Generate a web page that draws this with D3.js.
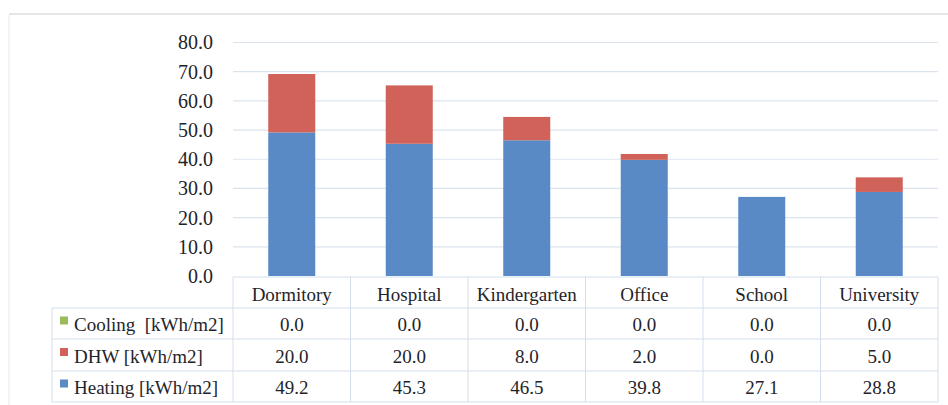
<!DOCTYPE html>
<html>
<head>
<meta charset="utf-8">
<script src="https://cdn.jsdelivr.net/npm/d3@7"></script>
<style>
  html, body { margin: 0; padding: 0; background: #fff; }
  svg { display: block; }
</style>
</head>
<body>
<svg id="chart" width="948" height="405"></svg>
<script>
// Building types and their annual energy demand per floor area
const categories = ["Dormitory", "Hospital", "Kindergarten", "Office", "School", "University"];
const heating = [49.2, 45.3, 46.5, 39.8, 27.1, 28.8];
const dhw = [20.0, 20.0, 8.0, 2.0, 0.0, 5.0];
const cooling = [0.0, 0.0, 0.0, 0.0, 0.0, 0.0];
const yTicks = [0, 10, 20, 30, 40, 50, 60, 70, 80];

const seriesNames = ["Heating [kWh/m2]", "DHW [kWh/m2]", "Cooling  [kWh/m2]"];
const seriesColors = ["#5A8AC6", "#D0625A", "#9BBB59"];
const seriesValues = [heating, dhw, cooling];

const FONT = "Liberation Serif";
const INK = "#1f242b";

function serif(sel, size) {
  return sel.attr("font-family", FONT).attr("font-size", size).attr("fill", INK);
}

const svg = d3.select("#chart").attr("font-family", FONT);

// Outer frame
svg.append("rect").attr("x", 9).attr("y", 13).attr("width", 948).attr("height", 2).attr("fill", "#e6e6e6");
svg.append("rect").attr("x", 8).attr("y", 15).attr("width", 2).attr("height", 400).attr("fill", "#f1f4f7");

const plotLeft = 233, plotRight = 938;
const y0 = 276, yTop = 42.5;

const x = d3.scaleBand().domain(categories).range([plotLeft, plotRight]).paddingInner(0.6).paddingOuter(0.3);
const col = d3.scaleBand().domain(categories).range([plotLeft, plotRight]);
const y = d3.scaleLinear().domain([0, 80]).range([y0, yTop]);

// Gridlines
svg.append("g")
  .selectAll("line")
  .data(yTicks.filter(t => t > 0))
  .join("line")
  .attr("x1", plotLeft).attr("x2", plotRight)
  .attr("y1", d => y(d)).attr("y2", d => y(d))
  .attr("stroke", "#dbe4ee").attr("stroke-width", 1.2);

// Value axis
const yAxis = d3.axisLeft(y).tickValues(yTicks).tickFormat(d3.format(".1f")).tickSize(0).tickPadding(0);
const yAxisG = svg.append("g").attr("transform", "translate(213,0)").call(yAxis)
  .attr("font-family", FONT).attr("font-size", 20);
yAxisG.select(".domain").remove();
serif(yAxisG.selectAll("text").attr("dy", "0.32em"), 20);

// Stacked bars
const rows = categories.map((c, i) => ({ cat: c, h: heating[i], d: dhw[i], c: cooling[i] }));
const stack = d3.stack().keys(["h", "d", "c"])(rows);
svg.append("g")
  .selectAll("g")
  .data(stack)
  .join("g")
  .attr("fill", (d, i) => seriesColors[i])
  .selectAll("rect")
  .data(d => d)
  .join("rect")
  .attr("x", d => x(d.data.cat))
  .attr("width", x.bandwidth())
  .attr("y", d => y(d[1]))
  .attr("height", d => y(d[0]) - y(d[1]));

// Data table under the plot
const rowTop = [277, 308, 339, 371, 402];
const tableLeft = 52;
const gridColor = "#d3dfec";
const tbl = svg.append("g").attr("font-family", FONT);

// Horizontal rules
tbl.append("line").attr("x1", plotLeft).attr("x2", plotRight).attr("y1", rowTop[0]).attr("y2", rowTop[0]).attr("stroke", gridColor);
rowTop.slice(1).forEach(yy => {
  tbl.append("line").attr("x1", tableLeft).attr("x2", plotRight).attr("y1", yy).attr("y2", yy).attr("stroke", gridColor);
});
// Vertical rules
tbl.append("line").attr("x1", tableLeft).attr("x2", tableLeft).attr("y1", rowTop[1]).attr("y2", rowTop[4]).attr("stroke", gridColor);
categories.forEach(c => {
  tbl.append("line").attr("x1", col(c)).attr("x2", col(c)).attr("y1", rowTop[0]).attr("y2", rowTop[4]).attr("stroke", gridColor);
});
tbl.append("line").attr("x1", plotRight).attr("x2", plotRight).attr("y1", rowTop[0]).attr("y2", rowTop[4]).attr("stroke", gridColor);

// Category header
serif(tbl.selectAll("text.cat")
  .data(categories)
  .join("text")
  .attr("class", "cat")
  .attr("x", d => col(d) + col.bandwidth() / 2)
  .attr("y", (rowTop[0] + rowTop[1]) / 2 + 2)
  .attr("dy", "0.35em")
  .attr("text-anchor", "middle")
  .text(d => d), 19);

// Series rows, listed top to bottom: Cooling, DHW, Heating
const tableOrder = [2, 1, 0];
tableOrder.forEach((si, r) => {
  const cy = (rowTop[r + 1] + rowTop[r + 2]) / 2;
  tbl.append("rect")
    .attr("x", 60).attr("y", cy - 7).attr("width", 8).attr("height", 8)
    .attr("fill", seriesColors[si]);
  serif(tbl.append("text")
    .attr("x", 74).attr("y", cy + 1).attr("dy", "0.35em")
    .attr("xml:space", "preserve")
    .text(seriesNames[si]), 19);
  serif(tbl.selectAll(null)
    .data(seriesValues[si])
    .join("text")
    .attr("x", (d, i) => col(categories[i]) + col.bandwidth() / 2)
    .attr("y", cy + 1).attr("dy", "0.35em")
    .attr("text-anchor", "middle")
    .text(d => d3.format(".1f")(d)), 19);
});
</script>
</body>
</html>
